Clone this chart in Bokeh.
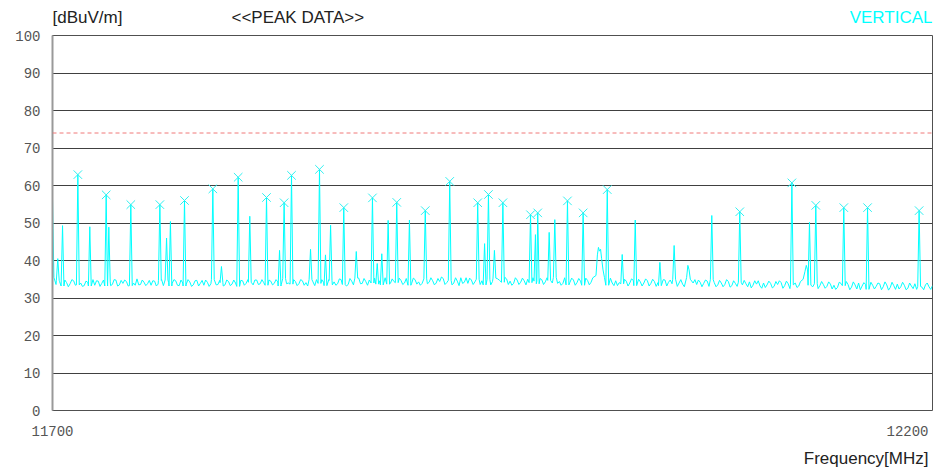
from bokeh.plotting import figure
from bokeh.models import FixedTicker, Span, Range1d
from bokeh.layouts import column
from bokeh.core.properties import value
from bokeh.embed import file_html
from bokeh.resources import INLINE

# ---------------- data ----------------
freq_start = 11700
freq_end = 12200

# noise floor read at even MHz (11700, 11702, ... 12200)
floor_even = [
    34.0, 33.6, 34.4, 33.2, 34.1, 33.8, 34.6, 33.5, 34.0, 33.3,
    34.2, 33.7, 33.4, 34.5, 33.9, 33.2, 34.3, 33.6, 34.8, 33.5,
    33.9, 34.4, 33.3, 34.0, 35.1, 33.6, 34.2, 33.8, 33.4, 34.5,
    33.7, 34.9, 33.5, 34.1, 33.9, 34.6, 33.3, 34.0, 33.7, 34.3,
    33.5, 34.7, 33.9, 33.4, 34.2, 33.8, 35.0, 33.6, 34.1, 33.5,
    34.4, 33.7, 34.0, 33.3, 34.6, 33.9, 34.2, 33.5, 34.8, 33.8,
    34.1, 33.4, 34.5, 33.9, 34.3, 33.6, 35.2, 34.0, 33.7, 34.4,
    33.8, 34.6, 34.1, 33.5, 34.3, 34.9, 33.9, 34.2, 33.6, 34.7,
    34.3, 33.8, 34.9, 34.1, 33.6, 34.5, 34.0, 35.3, 33.9, 34.4,
    34.8, 34.0, 33.7, 34.6, 34.2, 35.0, 33.9, 34.4, 34.1, 34.7,
    34.0, 34.5, 33.8, 34.9, 34.3, 33.9, 35.1, 34.2, 34.6, 34.0,
    34.4, 35.2, 34.1, 34.7, 34.0, 34.5, 35.4, 34.2, 33.9, 34.8,
    34.3, 35.0, 34.6, 34.1, 34.9, 34.4, 33.8, 34.7, 34.2, 35.1,
    34.5, 33.9, 34.8, 34.2, 34.6, 35.0, 34.1, 34.5, 33.8, 34.9,
    34.3, 34.7, 34.0, 35.2, 34.4, 33.9, 34.6, 34.2, 34.8, 34.1,
    34.5, 33.9, 34.7, 34.2, 35.0, 34.4, 34.8, 34.6, 34.3, 34.0,
    34.6, 34.1, 33.8, 34.5, 34.0, 34.7, 33.7, 34.3, 34.0, 34.6,
    33.9, 34.4, 34.1, 33.6, 34.8, 34.2, 33.8, 34.5, 34.0, 33.7,
    34.3, 34.9, 34.0, 33.6, 34.2, 33.9, 34.5, 33.7, 34.1, 33.5,
    34.0, 33.6, 34.4, 33.3, 33.9, 34.2, 33.5, 33.8, 34.3, 33.4,
    33.7, 33.2, 34.0, 33.5, 33.9, 33.1, 33.6, 34.1, 33.3, 33.8,
    33.5, 34.0, 33.2, 33.7, 34.3, 33.4, 33.0, 33.8, 33.3, 33.6,
    33.1, 33.7, 33.4, 32.8, 33.9, 33.3, 33.6, 32.9, 33.5, 34.0,
    33.2, 33.6, 32.7, 33.4, 33.1, 33.8, 33.0, 33.5, 32.8, 33.3,
    33.7, 33.0, 33.4, 32.6, 33.2, 33.8, 33.1, 32.9, 33.5, 33.0,
    33.3,
]

# noise floor read at odd MHz (11701, 11703, ... 12199)
floor_odd = [
    33.1, 34.7, 33.9, 34.8, 33.0, 34.9, 33.4, 34.6, 33.1, 34.5,
    33.2, 34.9, 34.6, 33.1, 34.8, 34.4, 33.3, 34.9, 33.2, 34.7,
    34.8, 33.2, 34.6, 33.4, 33.5, 34.8, 33.3, 34.7, 34.6, 33.2,
    34.7, 33.3, 34.8, 33.2, 34.9, 33.4, 34.8, 33.2, 34.9, 33.1,
    34.6, 33.2, 34.7, 34.8, 33.1, 34.9, 33.5, 34.7, 33.2, 34.8,
    33.3, 34.8, 33.1, 34.7, 33.4, 34.9, 33.2, 34.8, 33.6, 34.9,
    33.2, 34.8, 33.5, 34.9, 33.2, 34.7, 33.8, 33.2, 34.9, 33.3,
    34.9, 33.4, 33.2, 34.9, 33.3, 33.6, 34.9, 33.3, 34.9, 33.5,
    33.4, 35.1, 33.6, 33.2, 35.2, 33.5, 35.3, 33.8, 35.2, 33.4,
    33.6, 35.3, 35.1, 33.5, 35.4, 33.7, 35.1, 33.3, 35.3, 33.6,
    35.2, 33.4, 35.3, 33.7, 33.4, 35.3, 33.8, 35.4, 33.5, 35.2,
    35.6, 33.6, 35.3, 33.5, 35.4, 33.3, 33.9, 35.4, 35.3, 33.6,
    35.4, 33.6, 33.5, 35.5, 33.5, 35.3, 35.1, 33.4, 35.5, 33.6,
    33.4, 35.4, 33.6, 35.3, 33.5, 33.7, 35.4, 33.4, 35.2, 33.6,
    35.4, 33.5, 35.5, 33.9, 33.4, 35.4, 33.5, 35.3, 33.4, 35.2,
    33.4, 35.3, 33.5, 35.4, 33.6, 35.5, 33.7, 33.4, 35.3, 33.3,
    33.3, 35.2, 35.0, 33.2, 35.1, 33.3, 35.0, 33.2, 35.1, 33.2,
    35.0, 33.1, 33.3, 34.9, 33.2, 34.8, 35.0, 33.1, 34.9, 33.0,
    33.1, 33.3, 34.9, 34.8, 33.0, 34.8, 33.1, 34.9, 33.0, 34.7,
    33.0, 34.9, 32.9, 34.6, 33.1, 32.8, 34.7, 33.0, 32.7, 34.6,
    34.6, 32.6, 32.8, 34.5, 32.7, 34.4, 34.6, 32.6, 34.5, 32.5,
    32.6, 32.8, 34.4, 34.5, 32.6, 34.2, 34.3, 32.5, 34.4, 32.6,
    34.3, 32.4, 32.3, 34.2, 32.5, 34.4, 32.2, 34.3, 32.4, 32.2,
    34.1, 32.3, 34.2, 32.4, 34.0, 32.2, 34.3, 32.1, 34.2, 32.3,
    32.4, 34.2, 32.2, 34.0, 32.5, 32.3, 34.1, 32.2, 34.0, 32.3,
]

# marked peaks (X markers)
peak_freqs = [11714.4, 11730.5, 11744.5, 11761.0, 11775.0, 11791.1, 11805.5,
              11821.6, 11831.6, 11835.8, 11851.7, 11865.5, 11881.8, 11895.6,
              11911.8, 11925.7, 11941.6, 11947.7, 11955.9, 11971.6, 11975.7,
              11992.6, 12001.5, 12015.2, 12090.5, 12120.1, 12133.7, 12149.6,
              12163.1, 12192.4]
peak_levels = [62.9, 57.5, 54.9, 54.9, 56.0, 59.1, 62.2,
               56.8, 55.4, 62.7, 64.3, 54.1, 56.7, 55.5,
               53.3, 61.1, 55.4, 57.6, 55.4, 52.2, 52.7,
               55.9, 52.7, 58.9, 53.0, 60.7, 54.7, 54.1,
               54.1, 53.3]

# other (unmarked) spikes
spike_freqs = [11703.0, 11705.7, 11721.2, 11732.0, 11764.8, 11767.0, 11796.0,
               11812.1, 11829.0, 11846.6, 11855.1, 11858.0, 11872.6, 11884.5,
               11887.1, 11890.7, 11902.8, 11945.5, 11951.1, 11974.4, 11982.2,
               11985.4, 12023.7, 12031.1, 12045.1, 12053.2, 12074.6, 12130.1]
spike_levels = [40.5, 49.3, 49.0, 48.9, 46.0, 50.4, 38.4,
                51.8, 42.7, 43.0, 41.5, 49.4, 42.4, 39.2,
                41.8, 50.7, 50.8, 44.5, 42.7, 46.9, 47.5,
                50.9, 41.6, 50.8, 39.5, 44.0, 52.0, 50.2]

# broad humps / start transient, read point by point
hump_freqs = [11700.0, 11700.3, 11700.8,
              12008.8, 12009.6, 12010.2, 12010.8, 12011.4, 12012.0, 12012.8, 12013.6,
              12060.3, 12061.0, 12061.7, 12062.4,
              12126.5, 12127.5, 12128.3, 12129.0]
hump_levels = [56.5, 48.5, 35.5,
               36.0, 41.5, 43.5, 42.5, 43.0, 40.5, 37.5, 35.5,
               35.5, 38.7, 37.5, 35.0,
               35.0, 37.0, 38.7, 37.5]

limit_level = 74

y_ticks = [0, 10, 20, 30, 40, 50, 60, 70, 80, 90, 100]
x_tick_labels = ["11700", "12200"]

# ---------------- build trace ----------------
floor_freqs = [freq_start + 2 * i for i in range(len(floor_even))] + \
              [freq_start + 1 + 2 * i for i in range(len(floor_odd))]
floor_vals = floor_even + floor_odd
floor_pairs = sorted(zip(floor_freqs, floor_vals))


def nearest_floor(f):
    return min(floor_pairs, key=lambda t: abs(t[0] - f))[1]


half_w = 0.8
pts = []
all_spikes = list(zip(peak_freqs, peak_levels)) + list(zip(spike_freqs, spike_levels))
special = [f for f, _ in all_spikes] + hump_freqs
for f, v in floor_pairs:
    if all(abs(f - s) > 0.95 for s in special):
        pts.append((f, v))
for f, v in all_spikes:
    b = nearest_floor(f)
    pts.append((f - half_w, b))
    pts.append((f, v))
    pts.append((f + half_w, b))
for f, v in zip(hump_freqs, hump_levels):
    pts.append((f, v))
pts.sort(key=lambda t: t[0])
trace_x = [t[0] for t in pts]
trace_y = [t[1] for t in pts]

# ---------------- layout constants ----------------
W = 933
LEFT, RIGHT = 52, 1
FRAME_W = W - LEFT - RIGHT
HEAD_H = 28
MAIN_TOP, FRAME_H, MAIN_BOT = 7, 375, 12
FOOT_H = 471 - HEAD_H - (MAIN_TOP + FRAME_H + MAIN_BOT)

TXT = "#222222"
TICK = "#555555"
CYAN = "#00ffff"
TFS = "17px"

# ---------------- main plot ----------------
p = figure(width=W, height=MAIN_TOP + FRAME_H + MAIN_BOT,
           x_range=Range1d(freq_start, freq_end), y_range=Range1d(0, 100),
           output_backend="svg", toolbar_location=None,
           min_border_left=LEFT, min_border_right=RIGHT,
           min_border_top=MAIN_TOP, min_border_bottom=MAIN_BOT)
p.background_fill_color = "white"
p.border_fill_color = "white"
p.outline_line_color = "#505050"
p.outline_line_width = 1

p.xgrid.grid_line_color = None
p.ygrid.ticker = FixedTicker(ticks=y_ticks)
p.ygrid.grid_line_color = "#404040"
p.ygrid.grid_line_width = 1

p.xaxis.visible = False

p.yaxis.ticker = FixedTicker(ticks=y_ticks)
p.yaxis.axis_line_color = "#999999"
p.yaxis.axis_line_width = 2
p.yaxis.major_tick_line_color = None
p.yaxis.minor_tick_line_color = None
p.yaxis.major_tick_out = 0
p.yaxis.major_tick_in = 0
p.yaxis.major_label_standoff = 12
p.yaxis.major_label_text_font = "Liberation Mono"
p.yaxis.major_label_text_font_size = "14px"
p.yaxis.major_label_text_color = TICK

p.add_layout(Span(location=limit_level, dimension="width", line_color="#f07878",
                  line_width=1, line_dash="4 3"))

p.line(trace_x, trace_y, line_color=CYAN, line_width=1)
p.scatter(peak_freqs, peak_levels, marker="x", size=12, line_color="#30f0f0",
          line_width=1)

# ---------------- header ----------------
head = figure(width=W, height=HEAD_H, x_range=p.x_range, y_range=Range1d(HEAD_H, 0),
              output_backend="svg", toolbar_location=None,
              min_border_left=LEFT, min_border_right=RIGHT,
              min_border_top=0, min_border_bottom=0)
head.axis.visible = False
head.grid.visible = False
head.outline_line_color = None
head.text(x=[freq_start], y=[17], text=["[dBuV/m]"], text_align="left",
          text_baseline="middle", text_font=value("Liberation Sans"),
          text_font_size=TFS, text_color=TXT)
head.text(x=[freq_start], y=[17], text=["<<PEAK DATA>>"], x_offset=179,
          text_align="left", text_baseline="middle",
          text_font=value("Liberation Sans"), text_font_size=TFS, text_color=TXT)
head.text(x=[freq_end], y=[17], text=["VERTICAL"], text_align="right",
          text_baseline="middle", text_font=value("Liberation Sans"),
          text_font_size=TFS, text_color=CYAN)

# ---------------- footer (x tick labels + axis title) ----------------
mhz_per_px = (freq_end - freq_start) / FRAME_W
foot = figure(width=W, height=FOOT_H,
              x_range=Range1d(freq_start - LEFT * mhz_per_px, freq_end + RIGHT * mhz_per_px),
              y_range=Range1d(FOOT_H, 0),
              output_backend="svg", toolbar_location=None,
              min_border_left=0, min_border_right=0,
              min_border_top=0, min_border_bottom=0)
foot.frame_align = False
foot.axis.visible = False
foot.grid.visible = False
foot.outline_line_color = None
foot.text(x=[freq_start], y=[8], text=[x_tick_labels[0]], text_align="center",
          text_baseline="middle", text_font=value("Liberation Mono"),
          text_font_size="14px", text_color=TICK)
foot.text(x=[freq_end], y=[8], text=[x_tick_labels[1]], x_offset=-4,
          text_align="right", text_baseline="middle",
          text_font=value("Liberation Mono"), text_font_size="14px", text_color=TICK)
foot.text(x=[freq_end], y=[36], text=["Frequency[MHz]"], x_offset=-4,
          text_align="right", text_baseline="middle",
          text_font=value("Liberation Sans"), text_font_size=TFS, text_color=TXT)

layout = column(head, p, foot, spacing=0)
open("out.html", "w").write(file_html(layout, INLINE))
